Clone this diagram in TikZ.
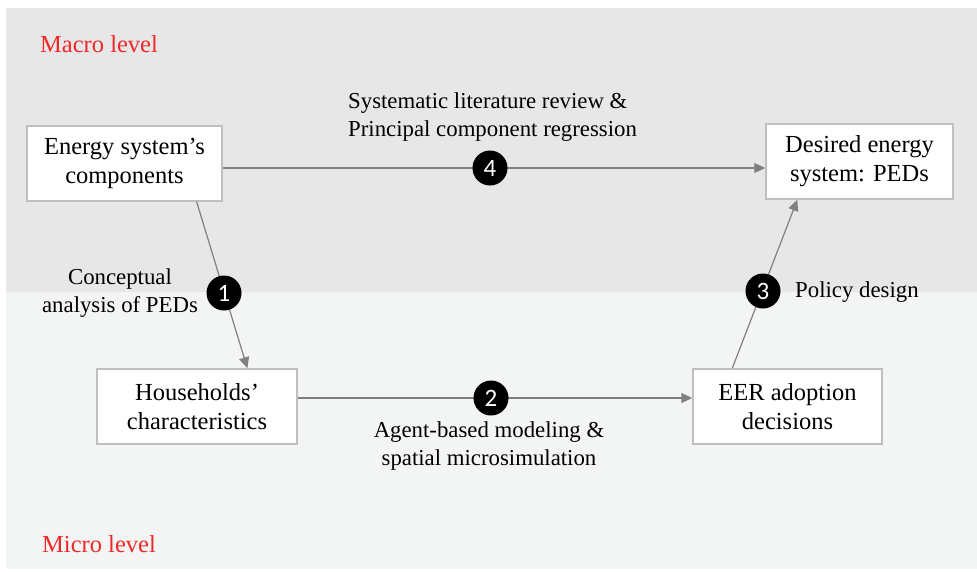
\documentclass[tikz,border=0pt]{standalone}
\usepackage{fontspec}
\setmainfont{Liberation Serif}
\newfontfamily\badgefont{Carlito}
\usetikzlibrary{arrows.meta,calc}

\definecolor{macrobg}{HTML}{E7E7E7}
\definecolor{microbg}{HTML}{F3F4F4}
\definecolor{boxline}{HTML}{BFBFBF}
\definecolor{arrowgray}{HTML}{808080}
\definecolor{levelred}{HTML}{F02828}

\tikzset{
  box/.style={draw=boxline, line width=1.5pt, fill=white, inner sep=0pt,
    align=center, font=\fontsize{24.5}{29}\selectfont},
  arr/.style={draw=arrowgray, line width=1.2pt,
    -{Triangle[length=11pt,width=10pt]}},
  badge/.style={circle, fill=black, minimum size=35pt, inner sep=0pt,
    text=white, font=\badgefont\fontsize{25}{25}\selectfont},
  lbl/.style={inner sep=0pt, font=\fontsize{22.8}{28}\selectfont},
  level/.style={inner sep=0pt, text=levelred, font=\fontsize{24.5}{28}\selectfont}
}

\begin{document}
\begin{tikzpicture}[x=1pt,y=-1pt]
  \useasboundingbox (0,0) rectangle (977,571);

  % the two level bands
  \fill[macrobg] (6,8) rectangle (977,292);
  \fill[microbg] (6,292) rectangle (977,569);

  \node[level, anchor=west] (macro) at (40,44) {Macro level};
  \node[level, anchor=west] (micro) at (42,544) {Micro level};

  % boxes
  \node[box, minimum width=195pt, minimum height=75pt] (esc) at (124.5,163.5)
    {Energy system’s\\components};
  \node[box, minimum width=187pt, minimum height=75pt] (des) at (859.5,161.5)
    {Desired energy\\system: PEDs};
  \node[box, minimum width=200pt, minimum height=75pt] (hh) at (197,406.5)
    {Households’\\characteristics};
  \node[box, minimum width=189pt, minimum height=75pt] (eer) at (787.5,406.5)
    {EER adoption\\decisions};

  % positions of the numbered steps
  \coordinate (p1) at (224,293);
  \coordinate (p2) at (491,398);
  \coordinate (p3) at (763,291);
  \coordinate (p4) at (490,168);

  % connectors
  \draw[arr] ($(esc.south west)!0.867!(esc.south east)$) -- ($(hh.north west)!0.75!(hh.north east)$);
  \draw[arr] (hh.east |- p2) -- (eer.west |- p2);
  \draw[arr] ($(eer.north west)!0.21!(eer.north east)$) -- ($(des.south west)!0.17!(des.south east)$);
  \draw[arr] (esc.east |- p4) -- (des.west |- p4);

  % step badges
  \node[badge] (n1) at (p1) {1};
  \node[badge] (n2) at (p2) {2};
  \node[badge] (n3) at (p3) {3};
  \node[badge] (n4) at (p4) {4};

  % connector labels
  \node[lbl, align=left, anchor=west] (l4) at (348,117)
    {Systematic literature review \&\\Principal component regression};
  \node[lbl, align=center] (l1) at (120,293) {Conceptual\\analysis of PEDs};
  \node[lbl, anchor=west] (l3) at (795,292) {Policy design};
  \node[lbl, align=center] (l2) at (489,446)
    {Agent-based modeling \&\\spatial microsimulation};
\end{tikzpicture}
\end{document}
